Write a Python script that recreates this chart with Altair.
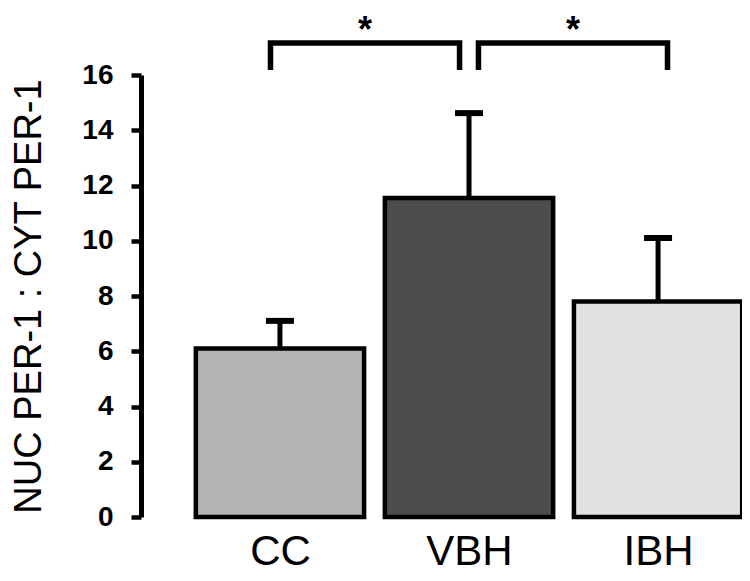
import json
import altair as alt
import pandas as pd

# ---- data ----
groups = ["CC", "VBH", "IBH"]
means = [6.1, 11.55, 7.8]
errors = [1.0, 3.07, 2.3]
fills = ["#b3b3b3", "#4d4d4d", "#e1e1e1"]

# significance comparisons (group index pairs) and their markers
comp_from = [0, 1]
comp_to = [1, 2]
comp_label = ["*", "*"]
comp_shift = [-0.05, 0.05]
bracket_low = 16.18
bracket_high = 17.16
star_y = 17.2

y_ticks = [0, 2, 4, 6, 8, 10, 12, 14, 16]

FONT = "Liberation Sans"
half = 0.445

bars = pd.DataFrame({
    "pos": list(range(len(groups))),
    "group": groups,
    "mean": means,
    "top": [m + e for m, e in zip(means, errors)],
    "fill": fills,
})
bars["lo"] = bars["pos"] - half
bars["hi"] = bars["pos"] + half

rows = []
for k, (a, b, s) in enumerate(zip(comp_from, comp_to, comp_shift)):
    xa, xb = a + s, b + s
    for o, (xx, yy) in enumerate([(xa, bracket_low), (xa, bracket_high),
                                   (xb, bracket_high), (xb, bracket_low)]):
        rows.append({"pair": k, "o": o, "bx": xx, "by": yy})
brackets = pd.DataFrame(rows)
stars = pd.DataFrame({
    "sx": [(a + b) / 2 + s for a, b, s in zip(comp_from, comp_to, comp_shift)],
    "sy": [star_y] * len(comp_from),
    "label": comp_label,
})

xscale = alt.Scale(domain=[-0.735, 2.444], nice=False, zero=False)
yscale = alt.Scale(domain=[0, 16], nice=False, zero=True)

label_expr = json.dumps(groups) + "[datum.value]"
YTITLE = "NUC PER-1 : CYT PER-1"

bar_layer = alt.Chart(bars).mark_bar(stroke="black", strokeWidth=4.5).encode(
    x=alt.X("lo:Q", scale=xscale, title=None, axis=alt.Axis(
        values=[0, 1, 2], labelExpr=label_expr, domain=False, ticks=False,
        grid=False, labelFontSize=42, labelFont=FONT, labelColor="black",
        labelPadding=14, labelFlush=False)),
    x2="hi:Q",
    y=alt.Y("mean:Q", scale=yscale, title=YTITLE, axis=alt.Axis(
        values=y_ticks, format="d", grid=False, labelFont=FONT,
        labelFontSize=28, labelFontWeight="bold", labelColor="black",
        labelPadding=18, tickSize=10, tickWidth=4.5, tickColor="black",
        domainColor="black", domainWidth=5, labelFlush=False,
        titleFont=FONT, titleFontSize=38,
        titleFontWeight="normal", titleColor="black", titleAngle=-90,
        titleX=-101, titleY=221, titleBaseline="alphabetic",
        titleAlign="center")),
    y2=alt.datum(0),
    fill=alt.Fill("fill:N", scale=None),
)

err_layer = alt.Chart(bars).mark_rule(color="black", strokeWidth=5).encode(
    x=alt.X("pos:Q", scale=xscale, title=None),
    y=alt.Y("mean:Q", scale=yscale, title=YTITLE),
    y2="top:Q",
)

cap_layer = alt.Chart(bars).mark_tick(
    orient="horizontal", size=28, thickness=6, color="black", opacity=1
).encode(
    x=alt.X("pos:Q", scale=xscale, title=None),
    y=alt.Y("top:Q", scale=yscale, title=YTITLE),
)

bracket_layer = alt.Chart(brackets).mark_line(
    color="black", strokeWidth=5.5, strokeJoin="miter", strokeCap="butt"
).encode(
    x=alt.X("bx:Q", scale=xscale, title=None),
    y=alt.Y("by:Q", scale=yscale, title=YTITLE),
    detail="pair:N",
    order="o:O",
)

star_layer = alt.Chart(stars).mark_text(
    fontSize=36, fontWeight="bold", font=FONT, baseline="alphabetic",
    align="center", color="black"
).encode(
    x=alt.X("sx:Q", scale=xscale, title=None),
    y=alt.Y("sy:Q", scale=yscale, title=YTITLE),
    text="label:N",
)

chart = alt.layer(bar_layer, err_layer, cap_layer, bracket_layer, star_layer).properties(
    width=601, height=442,
    autosize="none",
    padding={"left": 133, "top": 67, "right": 0, "bottom": 56},
    background="white",
).configure_view(stroke=None)

chart.save("out.html", embed_options={"renderer": "svg", "actions": False})
